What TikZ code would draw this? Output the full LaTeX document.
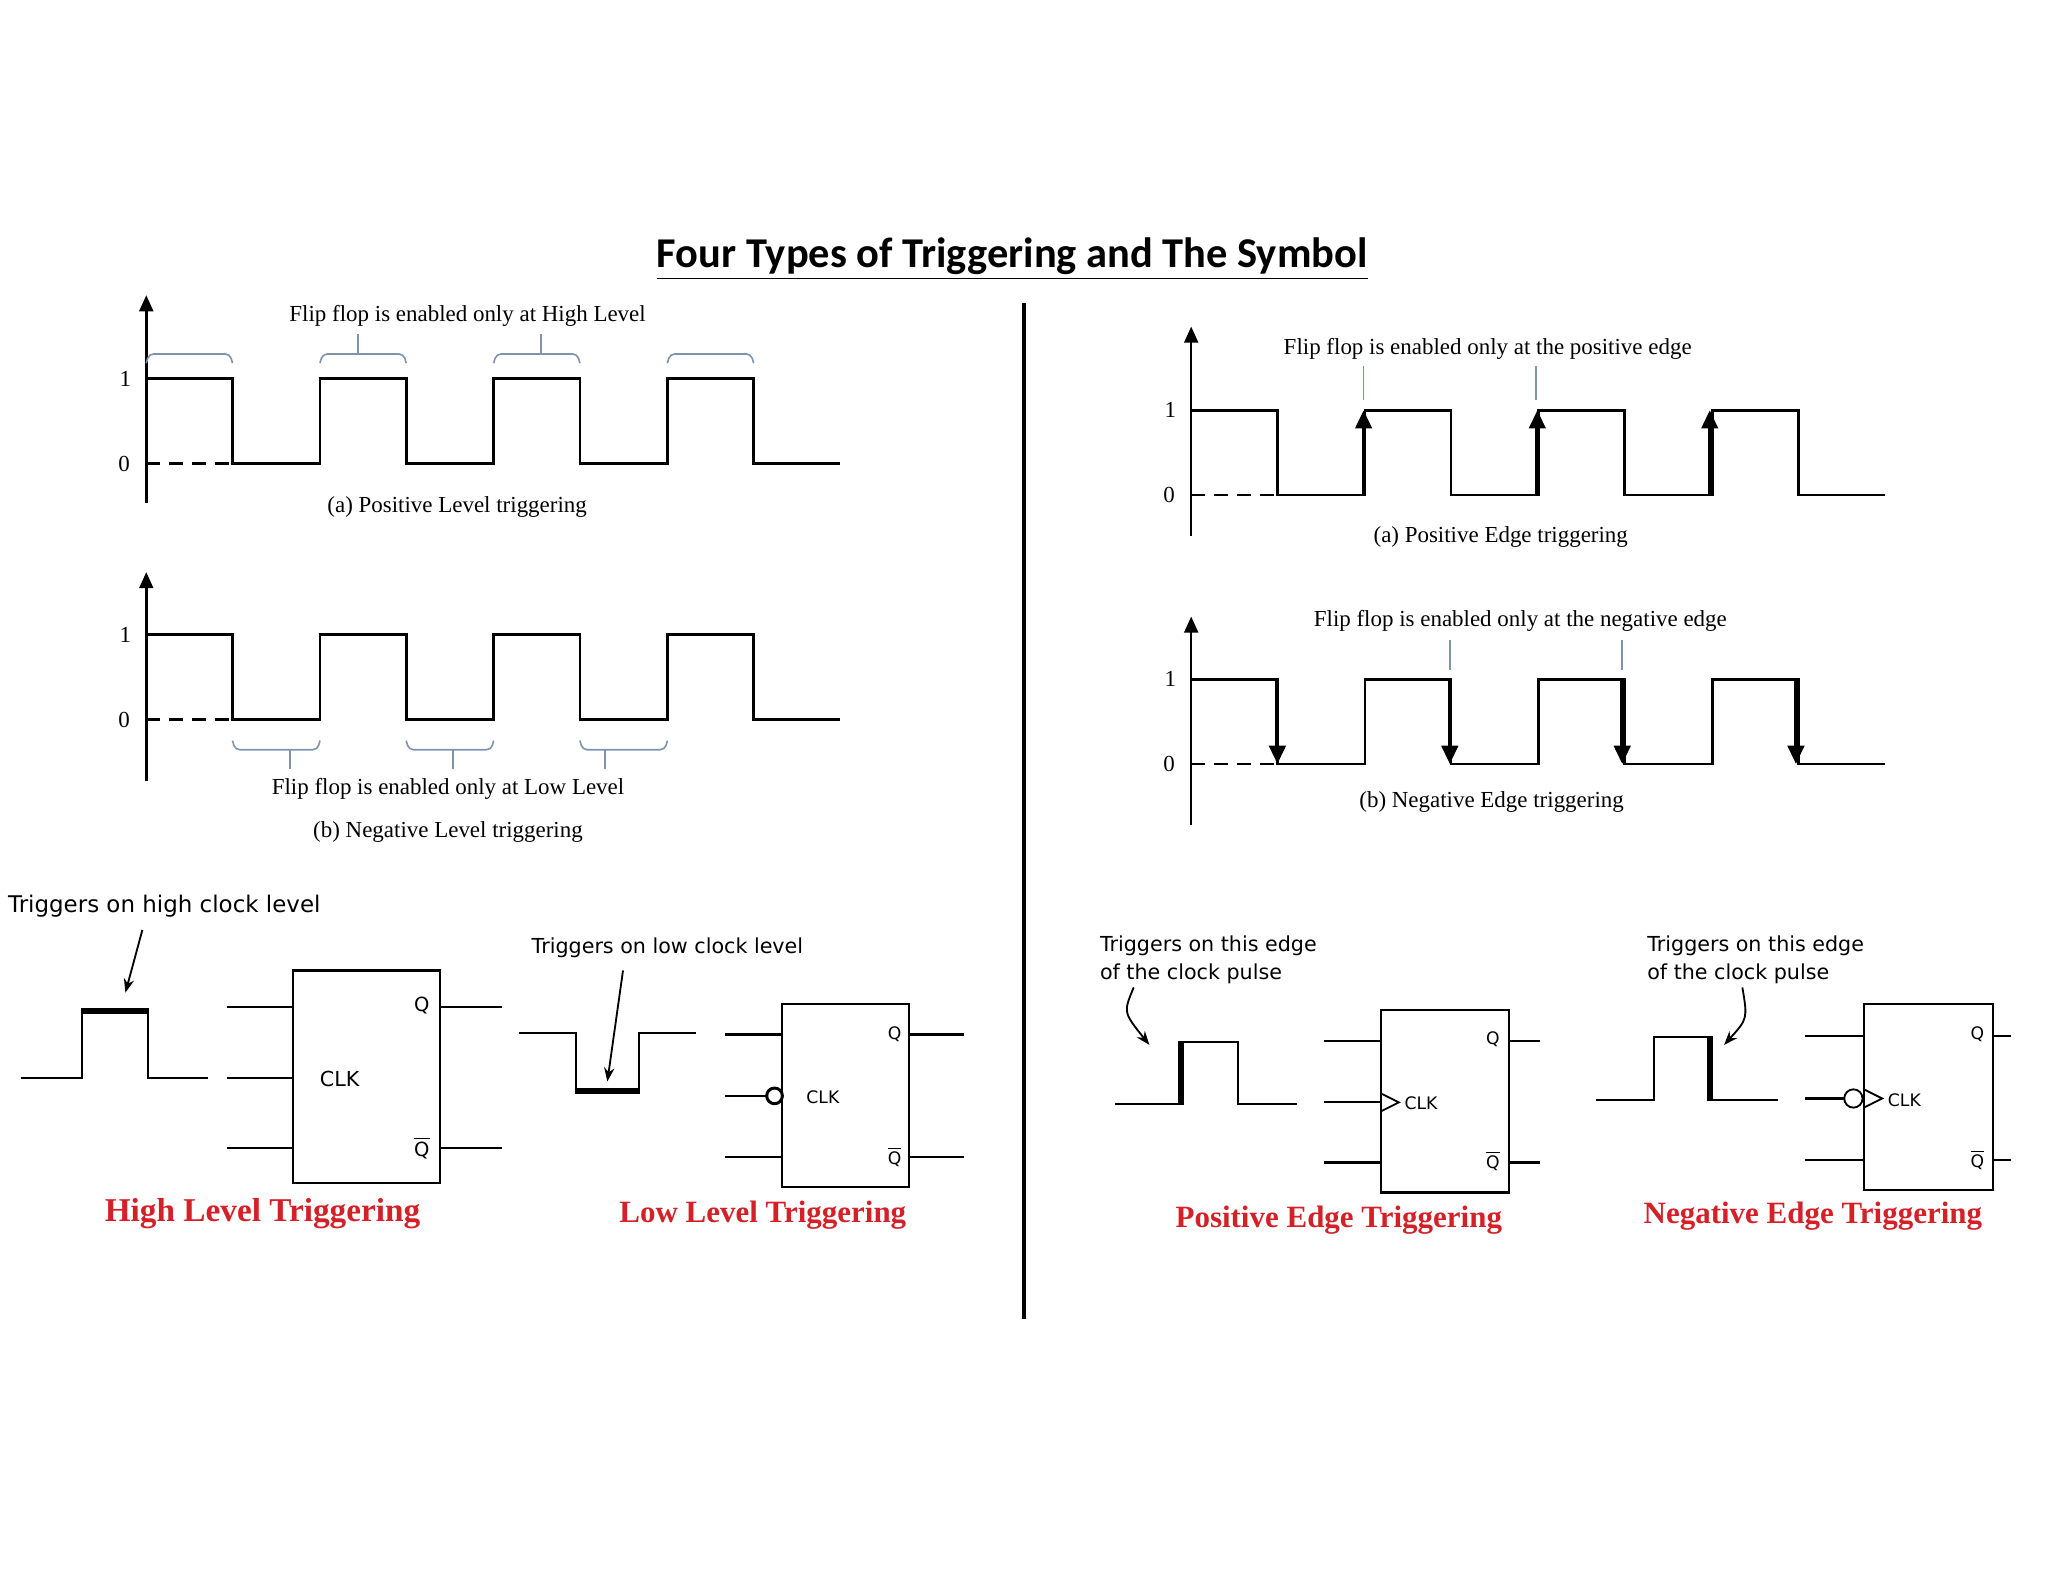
\documentclass[tikz,border=0pt]{standalone}
\usepackage{fontspec}
\setmainfont{Liberation Serif}
\newfontfamily\titlefont{Carlito}
\newfontfamily\lblfont{DejaVu Sans}
\usetikzlibrary{arrows.meta}
\definecolor{brc}{HTML}{7F93AD}
\definecolor{redt}{HTML}{D42027}
\tikzset{
 wave/.style={line width=1.2pt,line join=miter},
 axis/.style={line width=1.1pt,-{Triangle[length=7pt,width=6pt]}},
 brace/.style={brc,line width=0.7pt,rounded corners=2pt},
 lab/.style={font=\fontsize{10}{12}\selectfont},
 sans/.style={font=\lblfont\fontsize{10}{12}\selectfont},
 small/.style={font=\lblfont\fontsize{7.5}{9}\selectfont},
 red/.style={text=redt,font=\bfseries\fontsize{14.5}{17}\selectfont},
 ff/.style={line width=0.9pt},
 pin/.style={line width=0.8pt},
 edgearr/.style={line width=1.8pt,-{Triangle[length=8pt,width=7pt]}},
}
\newcommand{\mywave}[1]{%
 \draw[wave] (112,#1) -- (178,#1) -- ++(0,65) -- (245,#1+65) -- (245,#1) -- (311,#1) -- ++(0,65) -- (378,#1+65) -- (378,#1) -- (444,#1) -- ++(0,65) -- (511,#1+65) -- (511,#1) -- (577,#1) -- ++(0,65) -- (643,#1+65);
 \draw[wave,dash pattern=on 6pt off 4pt] (112,#1+65) -- (178,#1+65);
 \node[lab] at (96,#1) {1};
 \node[lab] at (95,#1+65) {0};}
\begin{document}
\begin{tikzpicture}[x=0.02cm,y=-0.02cm]
\useasboundingbox (0,0) rectangle (1568,1211);
\node[font=\titlefont\bfseries\fontsize{18.5}{22}\selectfont] (title) at (775,198) {\underline{Four Types of Triggering and The Symbol}};
\draw[line width=2pt] (784,232) -- (784,1010);
% panel a left
\draw[axis] (112,385) -- (112,226);
\mywave{290}
\foreach \a/\b in {112/178,245/311,378/444,511/577}
 \draw[brace] (\a,278) -- (\a+2,271) -- (\b-2,271) -- (\b,278);
\draw[brc,line width=0.7pt] (274,271) -- (274,256) (414,271) -- (414,256);
\node[lab] (t1) at (358,242) {Flip flop is enabled only at High Level};
\node[lab] (c1) at (350,388) {(a) Positive Level triggering};
% panel b left
\draw[axis] (112,598) -- (112,438);
\mywave{486}
\foreach \a/\b in {178/245,311/378,444/511}
 \draw[brace] (\a,567) -- (\a+2,574) -- (\b-2,574) -- (\b,567);
\draw[brc,line width=0.7pt] (222,574) -- (222,589) (347,574) -- (347,589) (463,574) -- (463,589);
\node[lab] (t2) at (343,604) {Flip flop is enabled only at Low Level};
\node[lab] (c2) at (343,637) {(b) Negative Level triggering};
% right panels
\begin{scope}[shift={(800,0)}]
\draw[axis] (112,410) -- (112,250);
\mywave{314}
\foreach \x in {244,377,509} \draw[edgearr] (\x,379) -- (\x,314);
\draw[brc,line width=0.7pt] (244,280) -- (244,306) (376,280) -- (376,306);
\draw[axis] (112,632) -- (112,472);
\mywave{520}
\foreach \x in {178,310,442,575} \draw[edgearr] (\x,520) -- (\x,585);
\draw[brc,line width=0.7pt] (310,490) -- (310,513) (442,490) -- (442,513);
\end{scope}
\node[lab] (t3) at (1139,267) {Flip flop is enabled only at the positive edge};
\node[lab] (c3) at (1149,411) {(a) Positive Edge triggering};
\node[lab] (t4) at (1164,475) {Flip flop is enabled only at the negative edge};
\node[lab] (c4) at (1142,614) {(b) Negative Edge triggering};
% high level
\node[sans,anchor=west] (hl) at (0,694) {Triggers on high clock level};
\draw[pin,-{Stealth[length=6pt]}] (109,712) -- (96,760);
\draw[ff] (16,825) -- (63,825) -- (63,774) (113,774) -- (113,825) -- (159,825);
\draw[line width=2.6pt] (62,774) -- (114,774);
\draw[ff] (224,743) rectangle (337,906);
\foreach \y in {771,825,879} \draw[ff] (174,\y) -- (224,\y);
\foreach \y in {771,879} \draw[ff] (337,\y) -- (384,\y);
\node[small,font=\lblfont\fontsize{8.5}{10}\selectfont] at (323,770) {Q};
\node[small,font=\lblfont\fontsize{8.5}{10}\selectfont] at (323,879) {$\overline{\mbox{Q}}$};
\node[small,font=\lblfont\fontsize{9}{10}\selectfont] at (260,826) {CLK};
\node[red] (r1) at (201,929) {High Level Triggering};
% low level
\node[sans,font=\lblfont\fontsize{9}{11}\selectfont] (ll) at (511,726) {Triggers on low clock level};
\draw[pin,-{Stealth[length=6pt]}] (477,743) -- (465,828);
\draw[ff] (397,791) -- (441,791) -- (441,835) (489,835) -- (489,791) -- (533,791);
\draw[line width=2.6pt] (440,835) -- (490,835);
\draw[ff] (599,769) rectangle (696,909);
\foreach \y in {792,886} {\draw[ff] (555,\y) -- (599,\y); \draw[ff] (696,\y) -- (738,\y);}
\draw[ff] (555,839) -- (587,839);
\draw[line width=1.3pt] (593,839) circle (6);
\node[small] at (685,792) {Q};
\node[small] at (685,886) {$\overline{\mbox{Q}}$};
\node[small] at (630,840) {CLK};
\node[red,font=\bfseries\fontsize{13.5}{16}\selectfont] (r2) at (584,930) {Low Level Triggering};
% positive edge
\node[sans,anchor=west,align=left,font=\lblfont\fontsize{9}{12}\selectfont] (pe) at (836,735) {Triggers on this edge\\of the clock pulse};
\draw[pin,-{Stealth[length=6pt]}] (868,756) .. controls (860,775) .. (880,800);
\draw[ff] (854,845) -- (904,845) (904,798) -- (948,798) -- (948,845) -- (993,845);
\draw[line width=2.6pt] (904,846) -- (904,797);
\draw[ff] (1057,773) rectangle (1155,913);
\foreach \y in {797,844,890} \draw[ff] (1014,\y) -- (1057,\y);
\foreach \y in {797,890} \draw[ff] (1155,\y) -- (1179,\y);
\draw[pin] (1057,837) -- (1071,844) -- (1057,851);
\node[small] at (1143,796) {Q};
\node[small] at (1143,889) {$\overline{\mbox{Q}}$};
\node[small] at (1088,845) {CLK};
\node[red,font=\bfseries\fontsize{13.5}{16}\selectfont] (r3) at (1025,934) {Positive Edge Triggering};
% negative edge
\node[sans,anchor=west,align=left,font=\lblfont\fontsize{9}{12}\selectfont] (ne) at (1255,735) {Triggers on this edge\\of the clock pulse};
\draw[pin,-{Stealth[length=6pt]}] (1334,756) .. controls (1338,780) .. (1320,800);
\draw[ff] (1222,842) -- (1266,842) -- (1266,794) -- (1309,794) (1309,842) -- (1361,842);
\draw[line width=2.6pt] (1309,793) -- (1309,843);
\draw[ff] (1427,769) rectangle (1526,911);
\foreach \y in {793,888} {\draw[ff] (1382,\y) -- (1427,\y); \draw[ff] (1526,\y) -- (1540,\y);}
\draw[ff] (1382,841) -- (1412,841);
\draw[pin] (1419,841) circle (7);
\draw[pin] (1427,834) -- (1441,841) -- (1427,848);
\node[small] at (1514,792) {Q};
\node[small] at (1514,888) {$\overline{\mbox{Q}}$};
\node[small] at (1458,842) {CLK};
\node[red,font=\bfseries\fontsize{13.5}{16}\selectfont] (r4) at (1388,931) {Negative Edge Triggering};
\end{tikzpicture}
\end{document}
